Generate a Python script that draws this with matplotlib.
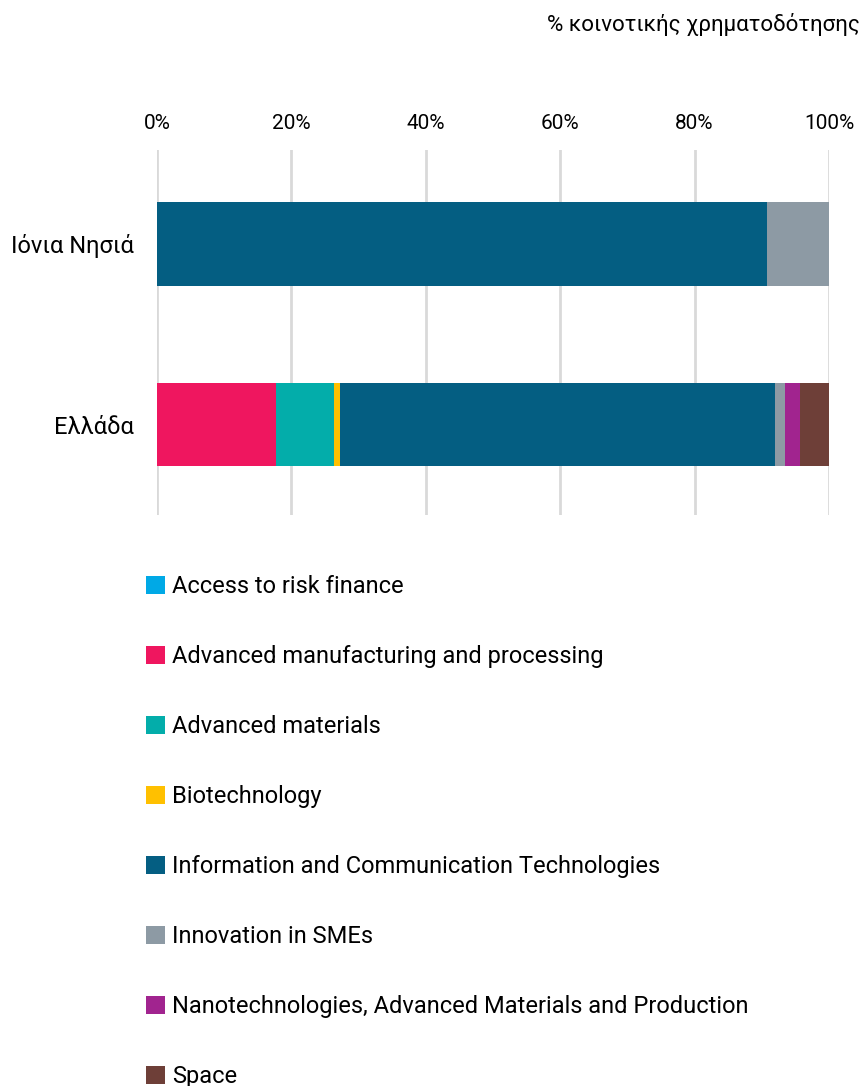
import numpy as np
import matplotlib.pyplot as plt
from matplotlib.patches import Patch

plt.rcParams['font.family'] = ['Roboto', 'DejaVu Sans']

regions = ["Ιόνια Νησιά", "Ελλάδα"]
categories = [
    "Access to risk finance",
    "Advanced manufacturing and processing",
    "Advanced materials",
    "Biotechnology",
    "Information and Communication Technologies",
    "Innovation in SMEs",
    "Nanotechnologies, Advanced Materials and Production",
    "Space",
]
colors = ["#00a9e6", "#ef165f", "#03adaa", "#ffc000", "#045e82",
          "#8d9aa4", "#a1248f", "#6e3f38"]

# share (%) per category, for Ιόνια Νησιά and Ελλάδα
shares = [
    [0.0, 0.0],
    [0.0, 17.7],
    [0.0, 8.6],
    [0.0, 0.9],
    [90.8, 64.8],
    [9.2, 1.4],
    [0.0, 2.3],
    [0.0, 4.3],
]
tick_vals = [0, 20, 40, 60, 80, 100]

fig = plt.figure(figsize=(8.64, 10.86), dpi=100)
ax = fig.add_axes([157 / 864, 1 - 515 / 1086, 672 / 864, 365 / 1086])

y = np.arange(len(regions))
left = np.zeros(len(regions))
for cat, col, vals in zip(categories, colors, shares):
    vals = np.array(vals)
    ax.barh(y, vals, left=left, height=0.46, color=col, zorder=3)
    left += vals

ax.set_xlim(0, 100)
ax.set_ylim(1.5, -0.52)
ax.set_yticks(y)
ax.set_yticklabels(regions, fontsize=17)
ax.set_xticks(tick_vals)
ax.set_xticklabels([f"{v}%" for v in tick_vals], fontsize=15)
ax.xaxis.tick_top()
ax.tick_params(axis='both', length=0)
ax.tick_params(axis='x', pad=12)
ax.tick_params(axis='y', pad=17)
ax.grid(axis='x', color='#d9d9d9', linewidth=2, zorder=0)
for s in ax.spines.values():
    s.set_visible(False)

fig.text(860 / 864, 1 - 25 / 1086, "% κοινοτικής χρηματοδότησης",
         ha='right', va='center', fontsize=16)

handles = [Patch(facecolor=c, edgecolor='none') for c in colors]
fig.legend(handles, categories, loc='upper left',
           bbox_to_anchor=(146 / 864, 1 - 575 / 1086),
           frameon=False, fontsize=17, labelspacing=1.99,
           handlelength=0.8, handleheight=0.8, handletextpad=0.3,
           borderaxespad=0, borderpad=0)

fig.savefig("out.png", dpi=100)
